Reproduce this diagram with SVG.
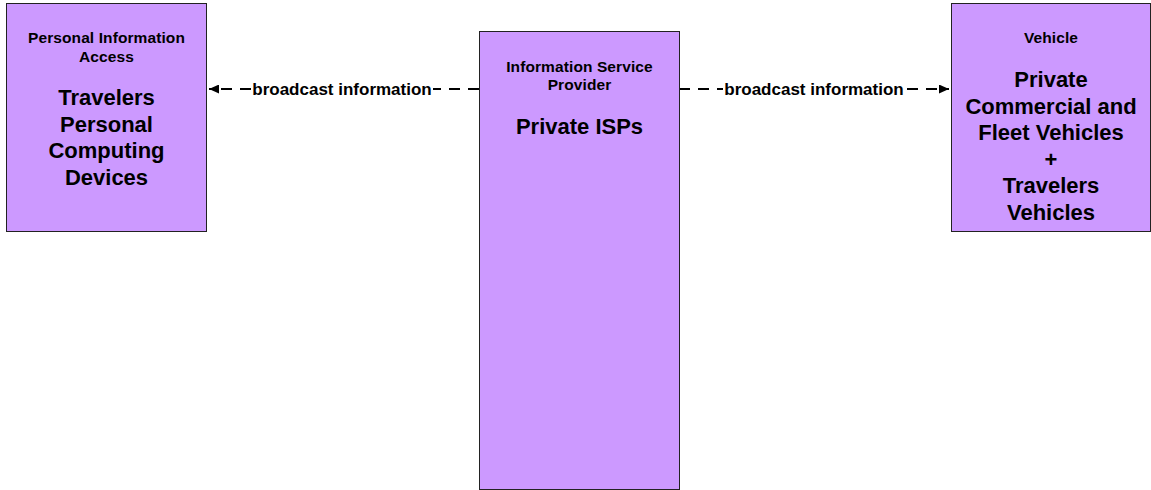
<svg xmlns="http://www.w3.org/2000/svg" width="1151" height="490" viewBox="0 0 1151 490">
  <style>
    .box { fill: #CC99FF; stroke: #222222; stroke-width: 1; }
    text { font-family: "Liberation Sans", Arial, sans-serif; font-weight: bold; fill: #000000; text-anchor: middle; }
    .title { font-size: 15.5px; letter-spacing: 0.1px; }
    .big { font-size: 22px; }
    .lbl { font-size: 17px; }
    .flow { fill: none; stroke: #000000; stroke-width: 1.8; stroke-dasharray: 11 8; }
    .lblbg { fill: #FFFFFF; }
  </style>
  <defs>
    <marker id="arrow" viewBox="0 0 10 9" refX="10" refY="4.5" markerWidth="10" markerHeight="9" markerUnits="userSpaceOnUse" orient="auto">
      <path d="M0,0 L10,4.5 L0,9 Z" fill="#000000"/>
    </marker>
  </defs>
  <rect width="1151" height="490" fill="#FFFFFF"/>

  <g id="connectors">
    <g id="conn-isp-to-pia">
      <path class="flow" d="M479,89 L209,89" marker-end="url(#arrow)"/>
      <rect class="lblbg" x="251" y="79" width="182" height="20"/>
      <text class="lbl" x="342" y="94.5">broadcast information</text>
    </g>
    <g id="conn-isp-to-vehicle">
      <path class="flow" d="M679,89 L949,89" marker-end="url(#arrow)"/>
      <rect class="lblbg" x="723" y="79" width="182" height="20"/>
      <text class="lbl" x="814" y="94.5">broadcast information</text>
    </g>
  </g>

  <g id="node-personal-information-access">
    <rect class="box" x="6.5" y="3.5" width="200" height="228"/>
    <text class="title" x="106.5" y="43.3">Personal Information</text>
    <text class="title" x="106.5" y="61.6">Access</text>
    <text class="big" x="106.5" y="105">Travelers</text>
    <text class="big" x="106.5" y="131.5">Personal</text>
    <text class="big" x="106.5" y="158">Computing</text>
    <text class="big" x="106.5" y="184.5">Devices</text>
  </g>

  <g id="node-information-service-provider">
    <rect class="box" x="479.5" y="31.5" width="200" height="458"/>
    <text class="title" x="579.5" y="71.7">Information Service</text>
    <text class="title" x="579.5" y="90">Provider</text>
    <text class="big" x="579.5" y="134">Private ISPs</text>
  </g>

  <g id="node-vehicle">
    <rect class="box" x="951.5" y="3.5" width="199" height="228"/>
    <text class="title" x="1051" y="43">Vehicle</text>
    <text class="big" x="1051" y="87.2">Private</text>
    <text class="big" x="1051" y="113.7">Commercial and</text>
    <text class="big" x="1051" y="140.2">Fleet Vehicles</text>
    <text class="big" x="1051" y="166.7">+</text>
    <text class="big" x="1051" y="193.2">Travelers</text>
    <text class="big" x="1051" y="219.7">Vehicles</text>
  </g>
</svg>
